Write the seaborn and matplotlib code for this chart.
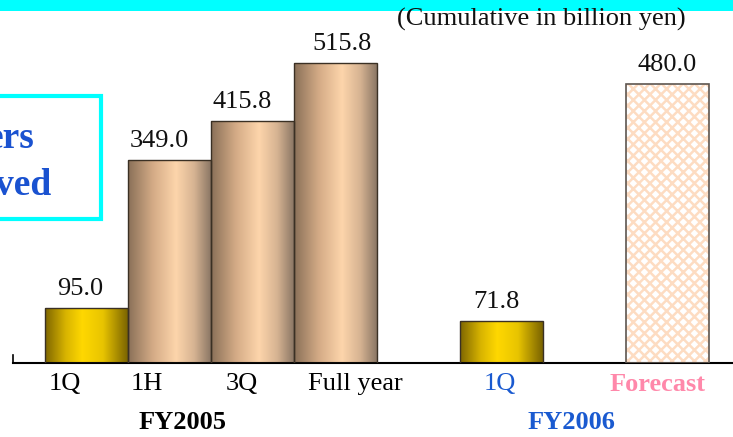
import numpy as np
import matplotlib
matplotlib.use("Agg")
import matplotlib.pyplot as plt
import seaborn as sns
from matplotlib.patches import Rectangle
from matplotlib.colors import LinearSegmentedColormap

# data
categories = ["1Q", "1H", "3Q", "Full year", "1Q", "Forecast"]
values = [95.0, 349.0, 415.8, 515.8, 71.8, 480.0]
positions = [0, 1, 2, 3, 5, 7]
fiscal_years = ["FY2005", "FY2006"]
fy_positions = [1.16, 5.84]
unit_note = "(Cumulative in billion yen)"
box_lines = ["ers", "ved"]

# styling / layout
bar_style = ["gold", "tan", "tan", "tan", "gold", "hatch"]
label_shift = [-0.26, -0.27, -0.13, 0.235, -0.02, -0.12]
value_shift = [-0.08, -0.12, -0.12, 0.08, -0.06, 0.0]
tick_colors = ["black", "black", "black", "black", "#1a5ad0", "#ff88aa"]
fy_colors = ["black", "#1a5ad0"]

sns.set_style("white")
plt.rcParams["font.family"] = ["Liberation Serif", "DejaVu Serif"]
plt.rcParams["hatch.linewidth"] = 1.8

gold = LinearSegmentedColormap.from_list(
    "gold", [(0, "#7e6600"), (0.25, "#d8b400"), (0.45, "#ffd800"),
             (0.7, "#e8c400"), (1, "#7a6300")])
tan = LinearSegmentedColormap.from_list(
    "tan", [(0, "#8a7058"), (0.3, "#d4ab86"), (0.58, "#fdd5ab"),
            (0.8, "#d6b392"), (1, "#8b7765")])

fig = plt.figure(figsize=(7.33, 4.37), dpi=100)
ax = fig.add_axes([13 / 733, 74 / 437, 1 - 13 / 733, 323 / 437])

sns.barplot(x=positions, y=values, native_scale=True, width=1,
            color="white", edgecolor="#3a3024", linewidth=1.0,
            saturation=1, ax=ax)

grad = np.linspace(0, 1, 256).reshape(1, -1)
for i, p in enumerate(list(ax.patches)):
    x0, y0 = p.get_x(), p.get_y()
    w, h = p.get_width(), p.get_height()
    if bar_style[i] == "hatch":
        p.set_facecolor("white")
        p.set_hatch("xxx")
        p.set_edgecolor("#fddcc2")
        p.set_linewidth(0)
        ax.add_patch(Rectangle((x0, y0), w, h, fill=False,
                               edgecolor="#5e5650", linewidth=1.2, zorder=4))
    else:
        cmap = gold if bar_style[i] == "gold" else tan
        im = ax.imshow(grad, extent=[x0, x0 + w, y0, y0 + h],
                       aspect="auto", cmap=cmap, zorder=2)
        im.set_clip_path(p)
        p.set_facecolor("none")
        p.set_zorder(3)
    ax.text(x0 + w / 2 + value_shift[i], values[i] + 22, f"{values[i]:.1f}",
            ha="center", va="baseline", fontsize=19, color="#111111")

ax.set_xlim(-0.886, 7.79)
ax.set_ylim(0, 555)
ax.set_aspect("auto")

ax.set_xticks([p + s for p, s in zip(positions, label_shift)])
ax.set_xticklabels(categories, fontsize=19)
for lbl, c in zip(ax.get_xticklabels(), tick_colors):
    lbl.set_color(c)
ax.get_xticklabels()[-1].set_fontweight("bold")
ax.tick_params(axis="x", length=0, pad=7)
ax.set_yticks([])
ax.set_xlabel("")
ax.set_ylabel("")

for fy, x, c in zip(fiscal_years, fy_positions, fy_colors):
    ax.text(x, -0.183, fy, transform=ax.get_xaxis_transform(), ha="center",
            va="center", fontsize=19, fontweight="bold", color=c)

for s in ["top", "right"]:
    ax.spines[s].set_visible(False)
ax.spines["bottom"].set_color("black")
ax.spines["bottom"].set_linewidth(1.5)
ax.spines["left"].set_color("black")
ax.spines["left"].set_linewidth(1.2)
ax.spines["left"].set_bounds(0, 13)

# cyan band on top and framed box on the left
fig.add_artist(Rectangle((0, 1 - 11 / 437), 1, 11 / 437, transform=fig.transFigure,
                         facecolor="#00ffff", edgecolor="none", zorder=0))
fig.add_artist(Rectangle((-0.05, (437 - 219) / 437), 0.05 + 101 / 733, 123 / 437,
                         transform=fig.transFigure, facecolor="white",
                         edgecolor="#00ffff", linewidth=3, zorder=5))
fig.text(35 / 733, 1 - 148 / 437, box_lines[0], ha="right", va="baseline",
         fontsize=27, fontweight="bold", color="#1a52d0", zorder=6)
fig.text(51 / 733, 1 - 195 / 437, box_lines[1], ha="right", va="baseline",
         fontsize=27, fontweight="bold", color="#1a52d0", zorder=6)

fig.text(397 / 733, 1 - 26 / 437, unit_note, ha="left", va="baseline",
         fontsize=19, color="#111111", zorder=6)

fig.savefig("out.png", dpi=100)
